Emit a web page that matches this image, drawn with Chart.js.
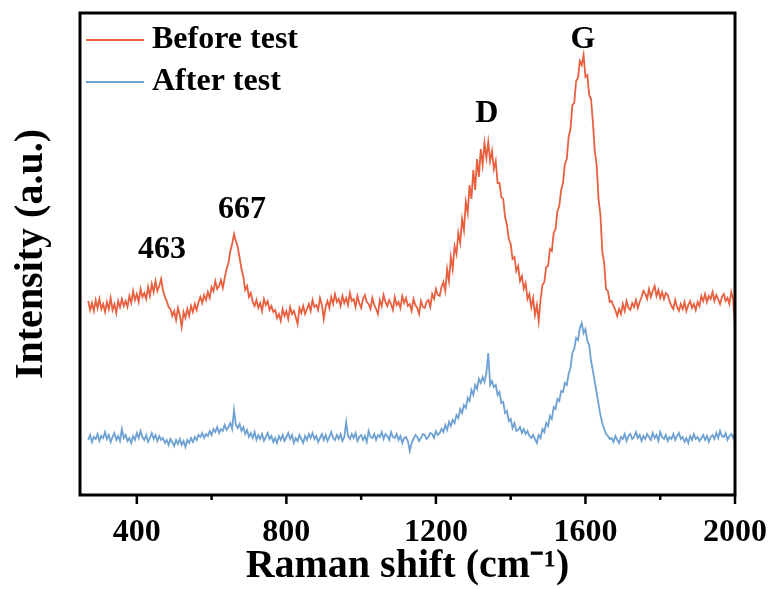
<!DOCTYPE html>
<html>
<head>
<meta charset="utf-8">
<script src="https://cdn.jsdelivr.net/npm/chart.js@4.4.1/dist/chart.umd.min.js"></script>
<style>
  html, body { margin: 0; padding: 0; background: #fff; }
  #wrap { width: 770px; height: 589px; }
</style>
</head>
<body>
<div id="wrap"><canvas id="ramanChart" width="770" height="589"></canvas></div>
<script>
// Raman shift grid (cm-1)
const ramanShift = [
  270, 275, 280, 285, 290, 295, 300, 305, 310, 315,
  320, 325, 330, 335, 340, 345, 350, 355, 360, 365,
  370, 375, 380, 385, 390, 395, 400, 405, 410, 415,
  420, 425, 430, 435, 440, 445, 450, 455, 460, 465,
  470, 475, 480, 485, 490, 495, 500, 505, 510, 515,
  520, 525, 530, 535, 540, 545, 550, 555, 560, 565,
  570, 575, 580, 585, 590, 595, 600, 605, 610, 615,
  620, 625, 630, 635, 640, 645, 650, 655, 660, 665,
  670, 675, 680, 685, 690, 695, 700, 705, 710, 715,
  720, 725, 730, 735, 740, 745, 750, 755, 760, 765,
  770, 775, 780, 785, 790, 795, 800, 805, 810, 815,
  820, 825, 830, 835, 840, 845, 850, 855, 860, 865,
  870, 875, 880, 885, 890, 895, 900, 905, 910, 915,
  920, 925, 930, 935, 940, 945, 950, 955, 960, 965,
  970, 975, 980, 985, 990, 995, 1000, 1005, 1010, 1015,
  1020, 1025, 1030, 1035, 1040, 1045, 1050, 1055, 1060, 1065,
  1070, 1075, 1080, 1085, 1090, 1095, 1100, 1105, 1110, 1115,
  1120, 1125, 1130, 1135, 1140, 1145, 1150, 1155, 1160, 1165,
  1170, 1175, 1180, 1185, 1190, 1195, 1200, 1205, 1210, 1215,
  1220, 1225, 1230, 1235, 1240, 1245, 1250, 1255, 1260, 1265,
  1270, 1275, 1280, 1285, 1290, 1295, 1300, 1305, 1310, 1315,
  1320, 1325, 1330, 1335, 1340, 1345, 1350, 1355, 1360, 1365,
  1370, 1375, 1380, 1385, 1390, 1395, 1400, 1405, 1410, 1415,
  1420, 1425, 1430, 1435, 1440, 1445, 1450, 1455, 1460, 1465,
  1470, 1475, 1480, 1485, 1490, 1495, 1500, 1505, 1510, 1515,
  1520, 1525, 1530, 1535, 1540, 1545, 1550, 1555, 1560, 1565,
  1570, 1575, 1580, 1585, 1590, 1595, 1600, 1605, 1610, 1615,
  1620, 1625, 1630, 1635, 1640, 1645, 1650, 1655, 1660, 1665,
  1670, 1675, 1680, 1685, 1690, 1695, 1700, 1705, 1710, 1715,
  1720, 1725, 1730, 1735, 1740, 1745, 1750, 1755, 1760, 1765,
  1770, 1775, 1780, 1785, 1790, 1795, 1800, 1805, 1810, 1815,
  1820, 1825, 1830, 1835, 1840, 1845, 1850, 1855, 1860, 1865,
  1870, 1875, 1880, 1885, 1890, 1895, 1900, 1905, 1910, 1915,
  1920, 1925, 1930, 1935, 1940, 1945, 1950, 1955, 1960, 1965,
  1970, 1975, 1980, 1985, 1990, 1995, 2000
];

// intensity (a.u.)
const beforeTest = [
  194, 185, 192, 184, 195, 187, 196, 186, 191, 183,
  193, 186, 197, 185, 191, 182, 194, 188, 196, 189,
  194, 188, 199, 192, 204, 195, 201, 193, 206, 198,
  202, 196, 208, 199, 211, 203, 214, 204, 209, 216,
  205, 198, 194, 188, 186, 179, 184, 175, 187, 180,
  168, 183, 177, 186, 179, 189, 183, 191, 185, 193,
  198, 192, 200, 195, 203, 197, 208, 204, 214, 206,
  209, 215, 207, 217, 226, 232, 244, 251, 261, 254,
  248, 237, 226, 218, 205, 209, 198, 202, 193, 189,
  195, 187, 192, 184, 196, 190, 194, 185, 189, 183,
  185, 177, 181, 174, 186, 179, 184, 176, 188, 181,
  184, 178, 171, 187, 182, 189, 181, 186, 191, 184,
  195, 188, 190, 185, 197, 190, 176, 188, 194, 187,
  198, 191, 201, 193, 196, 189, 199, 192, 197, 190,
  202, 194, 196, 188, 199, 192, 187, 196, 200, 193,
  191, 186, 197, 190, 186, 181, 195, 189, 200, 193,
  189, 195, 191, 185, 198, 190, 193, 187, 199, 192,
  197, 189, 191, 184, 196, 190, 187, 181, 194, 188,
  187, 193, 195, 188, 201, 196, 206, 200, 199, 208,
  213, 204, 226, 214, 238, 226, 249, 241, 262, 252,
  276, 265, 293, 282, 310, 296, 325, 305, 336, 318,
  346, 330, 352, 337, 353, 334, 344, 326, 334, 312,
  312, 298, 296, 278, 270, 256, 251, 236, 238, 224,
  229, 214, 219, 206, 212, 196, 201, 188, 197, 180,
  190, 174, 196, 210, 213, 228, 229, 246, 244, 262,
  266, 284, 289, 305, 312, 331, 336, 358, 366, 390,
  392, 414, 417, 434, 430, 440, 418, 420, 400, 396,
  372, 344, 330, 296, 280, 244, 232, 206, 204, 193,
  194, 189, 185, 179, 186, 181, 191, 184, 194, 187,
  185, 192, 188, 195, 187, 193, 198, 204, 201, 196,
  206, 198, 204, 209, 199, 205, 197, 203, 196, 202,
  200, 194, 189, 186, 195, 188, 184, 191, 186, 193,
  184, 190, 194, 187, 191, 185, 193, 189, 199, 194,
  201, 193, 199, 196, 203, 194, 200, 196, 191, 198,
  201, 194, 197, 191, 203, 196, 168
];

const afterTest = [
  55, 60, 53, 58, 56, 61, 54, 59, 57, 63,
  56, 60, 53, 58, 62, 55, 59, 54, 66, 57,
  60, 54, 57, 52, 59, 55, 62, 57, 64, 58,
  55, 60, 53, 57, 62, 56, 60, 54, 59, 55,
  57, 52, 55, 50, 56, 53, 49, 55, 51, 56,
  50, 54, 48, 55, 52, 57, 53, 58, 55, 60,
  58, 62, 57, 61, 59, 64, 60, 66, 63, 68,
  62, 66, 64, 70, 65, 68, 72, 66, 85, 70,
  67, 71, 64, 68, 61, 65, 58, 62, 57, 63,
  55, 60, 56, 61, 54, 58, 62, 56, 59, 53,
  57, 52, 59, 55, 60, 54, 58, 62, 56, 60,
  52, 57, 54, 60, 56, 52, 59, 55, 61, 57,
  62, 56, 59, 53, 57, 61, 55, 60, 54, 58,
  63, 57, 55, 60, 56, 61, 54, 58, 73, 59,
  56, 61, 57, 62, 54, 58, 60, 55, 59, 53,
  64, 58, 57, 61, 55, 60, 58, 63, 56, 61,
  59, 55, 63, 58, 57, 61, 55, 59, 52, 57,
  58, 54, 44, 52, 56, 60, 58, 54, 57, 61,
  60, 56, 58, 62, 61, 57, 64, 60, 62, 66,
  63, 70, 65, 73, 69, 75, 72, 80, 77, 86,
  82, 90, 87, 97, 94, 105, 100, 110, 106, 116,
  112, 118, 113, 122, 142, 110, 114, 108, 110, 100,
  103, 92, 93, 82, 84, 74, 76, 67, 72, 64,
  65, 68, 62, 66, 61, 64, 59, 57, 60, 56,
  52, 60, 57, 66, 63, 72, 69, 79, 76, 88,
  86, 96, 94, 104, 103, 112, 110, 121, 127, 142,
  146, 157, 155, 167, 172, 162, 166, 154, 150, 134,
  124, 113, 102, 91, 80, 72, 66, 61, 59, 56,
  57, 53, 59, 55, 52, 58, 56, 61, 54, 59,
  61, 56, 58, 63, 57, 60, 54, 59, 56, 61,
  58, 55, 62, 57, 60, 54, 63, 58, 56, 60,
  54, 58, 56, 61, 55, 59, 62, 56, 58, 53,
  57, 52, 59, 55, 61, 56, 58, 54, 57, 60,
  55, 59, 53, 58, 60, 56, 62, 57, 64, 59,
  58, 62, 55, 59, 61, 57, 62
];

const xMajorTicks = [400, 800, 1200, 1600, 2000];
const xMinorTicks = [600, 1000, 1400, 1800];

// peak annotations (text, position in data units)
const peakNames = ['463', '667', 'D', 'G'];
const peakShift = [467, 681, 1336, 1593];
const peakHeight = [245, 285, 381, 455];

const FONT = '"Liberation Serif", "Times New Roman", serif';

const toXY = (vals) => vals.map((v, i) => ({ x: ramanShift[i], y: v }));

const frameTicks = {
  id: 'frameTicks',
  afterDraw(chart) {
    const { ctx, chartArea: a, scales: { x } } = chart;
    ctx.save();
    ctx.strokeStyle = '#000';
    ctx.lineWidth = 3;
    ctx.strokeRect(a.left, a.top, a.right - a.left, a.bottom - a.top);
    ctx.lineWidth = 2.5;
    ctx.beginPath();
    xMajorTicks.forEach(v => {
      const px = x.getPixelForValue(v);
      ctx.moveTo(px, a.bottom);
      ctx.lineTo(px, a.bottom + 9);
    });
    xMinorTicks.forEach(v => {
      const px = x.getPixelForValue(v);
      ctx.moveTo(px, a.bottom);
      ctx.lineTo(px, a.bottom + 5);
    });
    ctx.stroke();
    ctx.restore();
  }
};

// legend sits inside the frame, top-left
const innerLegend = {
  id: 'innerLegend',
  afterDraw(chart) {
    const { ctx, chartArea: a } = chart;
    ctx.save();
    ctx.font = 'bold 32px ' + FONT;
    ctx.fillStyle = '#000';
    ctx.textAlign = 'left';
    ctx.textBaseline = 'middle';
    chart.data.datasets.forEach((ds, i) => {
      const y = a.top + 27 + i * 42;
      ctx.strokeStyle = ds.borderColor;
      ctx.lineWidth = 2;
      ctx.beginPath();
      ctx.moveTo(a.left + 6, y);
      ctx.lineTo(a.left + 64, y);
      ctx.stroke();
      ctx.fillText(ds.label, a.left + 72, y);
    });
    ctx.restore();
  }
};

const peakLabels = {
  id: 'peakLabels',
  afterDatasetsDraw(chart) {
    const { ctx, scales: { x, y } } = chart;
    ctx.save();
    ctx.font = 'bold 32px ' + FONT;
    ctx.fillStyle = '#000';
    ctx.textAlign = 'center';
    ctx.textBaseline = 'middle';
    peakNames.forEach((t, i) => {
      ctx.fillText(t, x.getPixelForValue(peakShift[i]), y.getPixelForValue(peakHeight[i]));
    });
    ctx.restore();
  }
};

new Chart(document.getElementById('ramanChart').getContext('2d'), {
  type: 'line',
  data: {
    datasets: [
      {
        label: 'Before test',
        data: toXY(beforeTest),
        borderColor: '#E8603F',
        borderWidth: 1.8,
        pointRadius: 0,
        tension: 0,
      },
      {
        label: 'After test',
        data: toXY(afterTest),
        borderColor: '#6FA2D3',
        borderWidth: 1.8,
        pointRadius: 0,
        tension: 0,
      },
    ],
  },
  options: {
    responsive: false,
    animation: false,
    layout: { padding: { top: 13, right: 0, left: 0, bottom: 0 } },
    plugins: {
      legend: { display: false },
      tooltip: { enabled: false },
    },
    scales: {
      x: {
        type: 'linear',
        min: 248,
        max: 2000,
        grid: { display: false, drawTicks: false },
        border: { display: false },
        afterBuildTicks: (s) => { s.ticks = xMajorTicks.map(v => ({ value: v })); },
        afterFit: (s) => { s.height = 94; s.paddingLeft = 0; s.paddingRight = 35; },
        ticks: {
          color: '#000',
          padding: 22,
          maxRotation: 0,
          autoSkip: false,
          callback: (v) => String(v),
          font: { family: FONT, size: 32, weight: 'bold', lineHeight: 1 },
        },
        title: {
          display: true,
          text: 'Raman shift (cm\u207B\u00B9)',
          color: '#000',
          padding: { top: 2, bottom: 2 },
          font: { family: FONT, size: 40, weight: 'bold', lineHeight: 1 },
        },
      },
      y: {
        min: 0,
        max: 482,
        grid: { display: false, drawTicks: false },
        border: { display: false },
        ticks: { display: false },
        afterFit: (s) => { s.width = 80; },
        title: {
          display: true,
          text: 'Intensity (a.u.)',
          color: '#000',
          padding: { top: 12, bottom: 20 },
          font: { family: FONT, size: 40, weight: 'bold', lineHeight: 1 },
        },
      },
    },
  },
  plugins: [frameTicks, innerLegend, peakLabels],
});
</script>
</body>
</html>
